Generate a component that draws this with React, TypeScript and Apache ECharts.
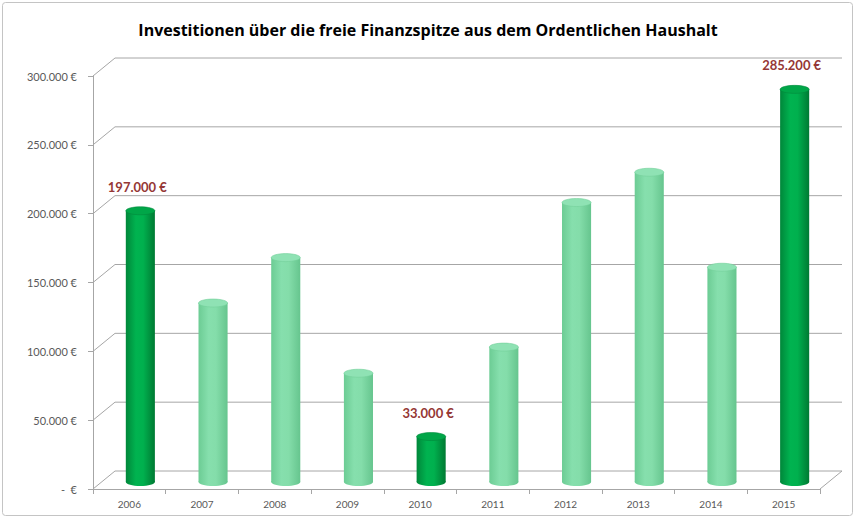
import React, { useEffect, useRef } from "react";
import * as echarts from "echarts";

const categories = ["2006", "2007", "2008", "2009", "2010", "2011", "2012", "2013", "2014", "2015"];
const values = [197000, 130000, 163000, 79000, 33000, 98000, 203000, 225000, 156000, 285200];
const highlighted = [true, false, false, false, true, false, false, false, false, true];
const yTicks = [0, 50000, 100000, 150000, 200000, 250000, 300000];
const title = "Investitionen über die freie Finanzspitze aus dem Ordentlichen Haushalt";

const fmtEuro = (v: number) => {
  if (v === 0) return "-  €";
  const th = Math.floor(v / 1000);
  const rest = String(v % 1000).padStart(3, "0");
  return th + "." + rest + " €";
};

const DX = 22;
const DY = -18;
const GRID_COLOR = "#a6a6a6";

export default function App() {
  const ref = useRef<HTMLDivElement>(null);
  useEffect(() => {
    if (!ref.current) return;
    const chart = echarts.init(ref.current, undefined, { renderer: "svg" });
    const dark = {
      type: "linear", x: 0, y: 0, x2: 1, y2: 0,
      colorStops: [
        { offset: 0, color: "#00873a" },
        { offset: 0.35, color: "#00b350" },
        { offset: 0.6, color: "#00b04e" },
        { offset: 1, color: "#007a33" },
      ],
    };
    const light = {
      type: "linear", x: 0, y: 0, x2: 1, y2: 0,
      colorStops: [
        { offset: 0, color: "#6ccc94" },
        { offset: 0.35, color: "#86dfad" },
        { offset: 0.6, color: "#84ddaa" },
        { offset: 1, color: "#66c58e" },
      ],
    };
    const option: any = {
      animation: false,
      backgroundColor: "#ffffff",
      title: {
        text: title,
        left: "center",
        top: 17,
        textStyle: { fontFamily: "Open Sans", fontSize: 16, fontWeight: "bold", color: "#000000" },
      },
      graphic: [
        {
          type: "rect",
          shape: { x: 2.5, y: 2.5, width: 850, height: 513, r: 3 },
          style: { fill: "none", stroke: "#c4c4c4", lineWidth: 1 },
          silent: true,
          z: -10,
        },
      ],
      grid: { left: 93, right: 36, top: 76, bottom: 30 },
      xAxis: {
        type: "category",
        data: categories,
        boundaryGap: true,
        axisLine: { show: true, lineStyle: { color: GRID_COLOR } },
        axisTick: { show: true, length: 5, lineStyle: { color: GRID_COLOR } },
        axisLabel: { color: "#595959", fontSize: 10, fontFamily: "Lato", margin: 10 },
        splitLine: { show: false },
      },
      yAxis: {
        type: "value",
        min: 0,
        max: 300000,
        interval: 50000,
        axisLine: { show: true, lineStyle: { color: GRID_COLOR } },
        axisTick: { show: true, length: 5, lineStyle: { color: GRID_COLOR } },
        axisLabel: {
          color: "#595959",
          fontSize: 11,
          fontFamily: "Lato",
          margin: 16,
          formatter: (v: number) => fmtEuro(v),
        },
        splitLine: { show: false },
      },
      series: [
        {
          type: "custom",
          silent: true,
          z: 1,
          data: [[0, 0]],
          renderItem: (params: any, api: any) => {
            const w = api.size([1, 0])[0];
            const first = api.coord([0, 0]);
            const last = api.coord([categories.length - 1, 0]);
            const x0 = first[0] - w / 2;
            const x1 = last[0] + w / 2;
            const children: any[] = [];
            const ls = { stroke: GRID_COLOR, lineWidth: 1 };
            yTicks.forEach((t) => {
              const p = api.coord([0, t]);
              const y = p[1];
              children.push({
                type: "line",
                shape: { x1: x0, y1: y, x2: x0 + DX, y2: y + DY },
                style: ls,
              });
              children.push({
                type: "line",
                shape: { x1: x0 + DX, y1: y + DY, x2: x1 + DX, y2: y + DY },
                style: ls,
              });
            });
            children.push({
              type: "line",
              shape: { x1: x1, y1: first[1], x2: x1 + DX, y2: first[1] + DY },
              style: ls,
            });
            return { type: "group", children };
          },
        },
        {
          type: "custom",
          z: 3,
          data: values.map((v, i) => [i, v]),
          renderItem: (params: any, api: any) => {
            const idx = api.value(0);
            const val = api.value(1);
            const top = api.coord([idx, val]);
            const base = api.coord([idx, 0]);
            const cw = api.size([1, 0])[0];
            const w = cw * 0.4;
            const rx = w / 2;
            const ry = 4;
            const cx = top[0] + DX / 2;
            const topY = top[1] + DY / 2 + 2;
            const botY = base[1] + DY / 2 + 2;
            const hi = highlighted[idx];
            const fill = hi ? dark : light;
            const topFill = hi ? "#00a648" : "#8fe2b4";
            const children: any[] = [
              {
                type: "ellipse",
                shape: { cx, cy: botY, rx, ry },
                style: { fill },
              },
              {
                type: "rect",
                shape: { x: cx - rx, y: topY, width: w, height: botY - topY },
                style: { fill },
              },
              {
                type: "ellipse",
                shape: { cx, cy: topY, rx, ry },
                style: { fill: topFill, stroke: hi ? "#008a3c" : "#74d09b", lineWidth: 0.6 },
              },
            ];
            if (hi) {
              children.push({
                type: "text",
                style: {
                  x: cx - 3,
                  y: topY - 24,
                  text: fmtEuro(val),
                  fill: "#953735",
                  font: "bold 13px Lato",
                  align: "center",
                  verticalAlign: "middle",
                },
              });
            }
            return { type: "group", children };
          },
        },
      ],
    };
    chart.setOption(option);
    return () => chart.dispose();
  }, []);
  return (
    <div
      ref={ref}
      style={{ position: "fixed", left: 0, top: 0, width: 856, height: 519 }}
    />
  );
}
